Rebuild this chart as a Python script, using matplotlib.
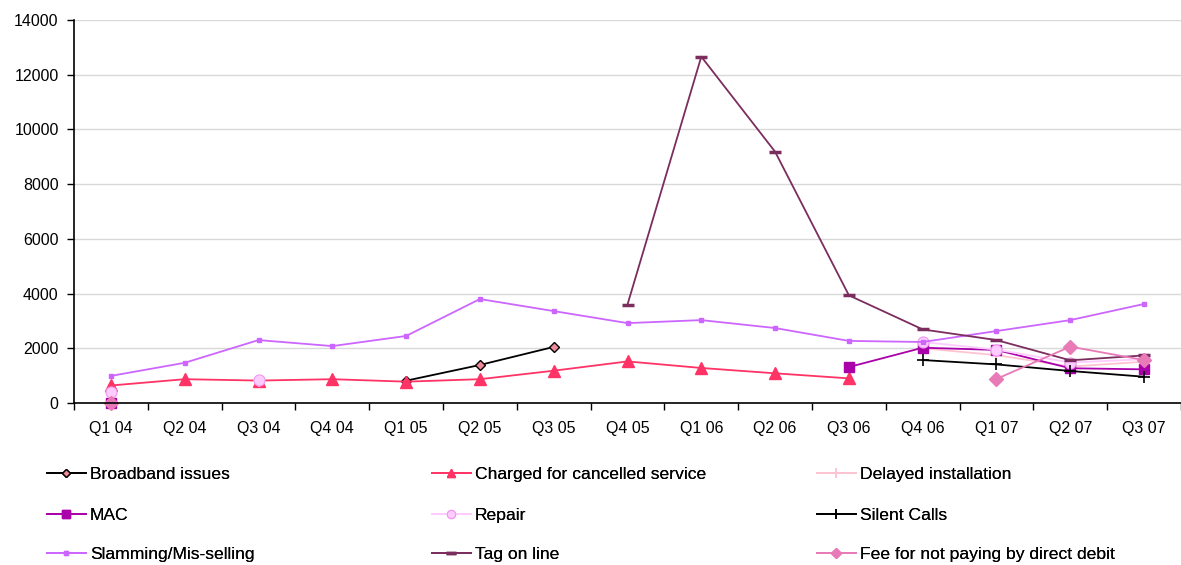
import matplotlib
matplotlib.use("Agg")
import matplotlib.pyplot as plt
import numpy as np

plt.rcParams['font.family'] = ['Liberation Sans', 'DejaVu Sans']

nan = np.nan
quarters = ["Q1 04", "Q2 04", "Q3 04", "Q4 04", "Q1 05", "Q2 05", "Q3 05", "Q4 05",
            "Q1 06", "Q2 06", "Q3 06", "Q4 06", "Q1 07", "Q2 07", "Q3 07"]

broadband = [0, nan, nan, nan, 815, 1390, 2050, nan, nan, nan, nan, nan, nan, nan, nan]
charged = [640, 870, 820, 870, 780, 870, 1180, 1520, 1280, 1085, 900, nan, nan, nan, nan]
delayed = [0, nan, 800, nan, nan, nan, nan, nan, nan, nan, nan, 2000, 1750, 1330, 1510]
mac = [0, nan, nan, nan, nan, nan, nan, nan, nan, nan, 1315, 2020, 1940, 1270, 1230]
repair = [420, nan, 830, nan, nan, nan, nan, nan, nan, nan, nan, 2230, 1950, 1480, 1600]
silent = [0, nan, nan, nan, nan, nan, nan, nan, nan, nan, nan, 1570, 1410, 1170, 960]
slamming = [990, 1470, 2300, 2080, 2450, 3800, 3360, 2920, 3030, 2740, 2270, 2230, 2630, 3030, 3620]
tag = [nan, nan, nan, nan, nan, nan, nan, 3600, 12660, 9185, 3935, 2690, 2300, 1560, 1740]
fee = [0, nan, nan, nan, nan, nan, nan, nan, nan, nan, nan, nan, 880, 2060, 1570]

fig = plt.figure(figsize=(11.81, 5.65), dpi=100)
ax = fig.add_axes([74/1181, 1 - 403/565, 1 - 74/1181, (403 - 20)/565])

x = np.arange(len(quarters))

series = [
    ("Broadband issues", broadband, dict(color="black", marker="D", markersize=5.5, markerfacecolor="#f08a9a", markeredgecolor="black", markeredgewidth=1.0)),
    ("Charged for cancelled service", charged, dict(color="#ff3366", marker="^", markersize=8, markerfacecolor="#ff3366", markeredgecolor="#ff3366")),
    ("Delayed installation", delayed, dict(color="#ffc4d2", marker="+", markersize=9, markeredgecolor="#ffc4d2", markeredgewidth=1.2)),
    ("MAC", mac, dict(color="#aa00aa", marker="s", markersize=7, markerfacecolor="#aa00aa", markeredgecolor="#aa00aa")),
    ("Repair", repair, dict(color="#ffccff", marker="o", markersize=8, markerfacecolor="#ffccff", markeredgecolor="#ee99ee", markeredgewidth=0.8)),
    ("Silent Calls", silent, dict(color="black", marker="+", markersize=9, markeredgecolor="black", markeredgewidth=1.2)),
    ("Slamming/Mis-selling", slamming, dict(color="#cc66ff", marker="s", markersize=3, markerfacecolor="#cc66ff", markeredgecolor="#cc66ff")),
    ("Tag on line", tag, dict(color="#7b2d5e", marker="_", markersize=9, markeredgecolor="#7b2d5e", markeredgewidth=2.5)),
    ("Fee for not paying by direct debit", fee, dict(color="#e87ab8", marker="D", markersize=7, markerfacecolor="#e87ab8", markeredgecolor="#e87ab8")),
]

handles = []
for label, vals, style in series:
    h, = ax.plot(x, vals, linewidth=1.3, label=label, clip_on=False, **style)
    handles.append(h)

ax.set_xlim(-0.5, (1181 - 111) / 74.14)
ax.set_ylim(0, 14000)
ax.set_yticks(np.arange(0, 14001, 2000))
ax.tick_params(axis='y', labelsize=11.5, length=5, direction='out', width=1, pad=6)
ax.set_xticks(x)
ax.set_xticklabels(quarters)
ax.set_xticks(np.arange(-0.5, 14.6, 1), minor=True)
ax.tick_params(axis='x', which='major', length=0, labelsize=11.5, pad=13)
ax.tick_params(axis='x', which='minor', length=5, width=1, direction='out')

ax.grid(axis='y', color='#d9d9d9', linewidth=1)
ax.set_axisbelow(True)
for s in ['top', 'right']:
    ax.spines[s].set_visible(False)
ax.spines['left'].set_linewidth(1.2)
ax.spines['bottom'].set_linewidth(1.2)

# legend: 3 x 3 grid, row-major
col_x = [47, 432, 817]
row_y = [474, 515, 554]
for i, h in enumerate(handles):
    r, c = divmod(i, 3)
    leg = fig.legend(handles=[h], loc='center left',
                     bbox_to_anchor=(col_x[c] / 1181, 1 - row_y[r] / 565),
                     frameon=False, fontsize=12.6, handlelength=2.2,
                     handletextpad=0.25, borderpad=0, borderaxespad=0,
                     markerscale=0.75)
    fig.add_artist(leg)

fig.savefig("out.png", dpi=100)
